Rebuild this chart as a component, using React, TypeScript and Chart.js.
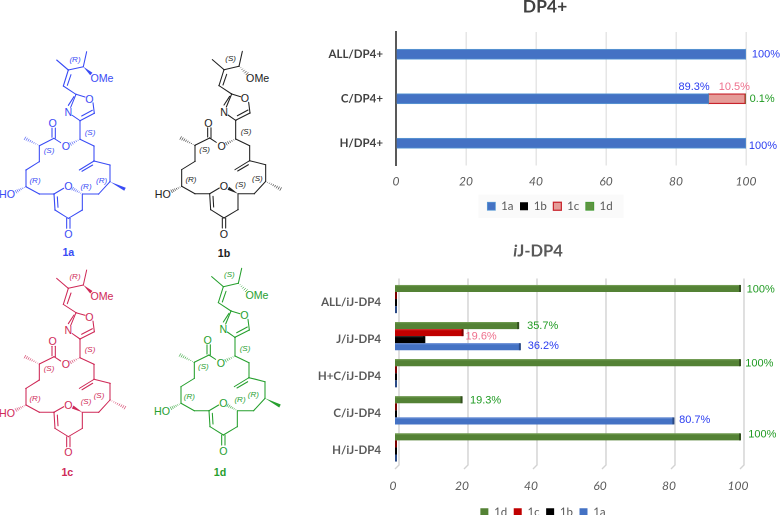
import React, { useEffect, useRef } from "react";
import { Chart, registerables } from "chart.js";
Chart.register(...registerables);

const dp4Categories = ["ALL/DP4+", "C/DP4+", "H/DP4+"];
const dp4_1a = [100, 89.3, 100];
const dp4_1b = [0, 0, 0];
const dp4_1c = [0, 10.5, 0];
const dp4_1d = [0, 0.1, 0];

const ijCategories = ["ALL/iJ-DP4", "J/iJ-DP4", "H+C/iJ-DP4", "C/iJ-DP4", "H/iJ-DP4"];
const ij_1d = [100, 35.7, 100, 19.3, 100];
const ij_1c = [0, 19.6, 0, 0, 0];
const ij_1b = [0, 8.5, 0, 0, 0];
const ij_1a = [0, 36.2, 0, 80.7, 0];

const axisTicks = [0, 20, 40, 60, 80, 100];

const SANS = "Lato, 'Open Sans', sans-serif";
const HELV = "'Liberation Sans', Arial, sans-serif";
const LABEL_BLUE = "#2a3cf0";
const LABEL_PINK = "#ee6f8c";
const LABEL_GREEN = "#1f9a22";

// [dataset, category, dx, dy, colour]
const dp4Labels: [number, number, number, number, string][] = [
  [0, 0, 20, 0, LABEL_BLUE],
  [0, 1, -14.5, -12, LABEL_BLUE],
  [2, 1, -11, -12, LABEL_PINK],
  [3, 1, 16.5, 0, LABEL_GREEN],
  [0, 2, 17, 2.5, LABEL_BLUE],
];
const ijLabels: [number, number, number, number, string][] = [
  [0, 0, 20.7, 1, LABEL_GREEN],
  [0, 1, 24.5, 0.5, LABEL_GREEN],
  [1, 1, 18.5, 4, LABEL_PINK],
  [3, 1, 23.4, -1, LABEL_BLUE],
  [0, 2, 19.3, 1, LABEL_GREEN],
  [0, 3, 24, 0.5, LABEL_GREEN],
  [3, 3, 21.3, -1, LABEL_BLUE],
  [0, 4, 22.3, -2.5, LABEL_GREEN],
];

function valueLabels(items: [number, number, number, number, string][]) {
  return {
    id: "valueLabels",
    afterDatasetsDraw(chart: any) {
      const ctx = chart.ctx;
      ctx.save();
      ctx.font = `11px ${HELV}`;
      ctx.textAlign = "center";
      ctx.textBaseline = "middle";
      for (const [d, i, dx, dy, color] of items) {
        const el = chart.getDatasetMeta(d).data[i];
        ctx.fillStyle = color;
        ctx.fillText(`${chart.data.datasets[d].data[i]}%`, el.x + dx, el.y + dy);
      }
      ctx.restore();
    },
  };
}

function titleParts(parts: [string, string][], cx: number, y: number, color: string, size: number) {
  return {
    id: "titleParts",
    afterDraw(chart: any) {
      const ctx = chart.ctx;
      ctx.save();
      ctx.fillStyle = color;
      ctx.textBaseline = "middle";
      ctx.textAlign = "left";
      let w = 0;
      for (const [style, t] of parts) {
        ctx.font = `${style} 700 ${size}px ${SANS}`;
        w += ctx.measureText(t).width;
      }
      let x = cx - w / 2;
      for (const [style, t] of parts) {
        ctx.font = `${style} 700 ${size}px ${SANS}`;
        ctx.fillText(t, x, y);
        x += ctx.measureText(t).width;
      }
      ctx.restore();
    },
  };
}

function legendShift(dx: number) {
  return {
    id: "legendShift",
    afterLayout(chart: any) {
      const lg = chart.legend;
      lg.left += dx;
      lg.right += dx;
      lg.legendHitBoxes.forEach((b: any) => { b.left += dx; });
    },
  };
}

const legendBackdrop = {
  id: "legendBackdrop",
  beforeDraw(chart: any) {
    const boxes = chart.legend.legendHitBoxes;
    if (!boxes.length) return;
    const a = boxes[0];
    const b = boxes[boxes.length - 1];
    const ctx = chart.ctx;
    ctx.save();
    ctx.fillStyle = "#fafafa";
    ctx.fillRect(a.left - 9, a.top - 6, b.left + b.width - a.left + 20, a.height + 12);
    ctx.restore();
  },
};

const perspectiveGrid = {
  id: "perspectiveGrid",
  beforeDatasetsDraw(chart: any) {
    const ctx = chart.ctx;
    const sx = chart.scales.x;
    const { top, bottom } = chart.chartArea;
    ctx.save();
    ctx.strokeStyle = "#d2d2d2";
    ctx.lineWidth = 1.4;
    for (const t of axisTicks) {
      const x = sx.getPixelForValue(t);
      ctx.beginPath();
      ctx.moveTo(x + 4, top - 2);
      ctx.lineTo(x + 4, bottom - 1);
      ctx.lineTo(x, bottom + 3);
      ctx.stroke();
    }
    ctx.restore();
  },
};

const shade: Record<string, [string, string]> = {
  "1d": ["#6f9a50", "#33501f"],
  "1c": ["#d22a2a", "#7c0000"],
  "1b": ["#262626", "#000000"],
  "1a": ["#6a8fd6", "#2a4a86"],
};
const barBevel = {
  id: "barBevel",
  afterDatasetsDraw(chart: any) {
    const ctx = chart.ctx;
    ctx.save();
    chart.data.datasets.forEach((ds: any, d: number) => {
      const [light, dark] = shade[ds.label];
      chart.getDatasetMeta(d).data.forEach((el: any, i: number) => {
        const h = el.height;
        const t = el.y - h / 2;
        const zero = ds.data[i] === 0;
        const right = zero ? el.x + 2 : el.x + 1;
        if (!zero) {
          ctx.fillStyle = light;
          ctx.fillRect(el.base, t, el.x - el.base, 1.2);
        }
        ctx.fillStyle = dark;
        ctx.fillRect(right - 2, t, 2, h);
      });
    });
    ctx.restore();
  },
};

function DP4Chart() {
  const ref = useRef<HTMLCanvasElement>(null);
  useEffect(() => {
    const chart = new Chart(ref.current!, {
      type: "bar",
      data: {
        labels: dp4Categories,
        datasets: [
          { label: "1a", data: dp4_1a, backgroundColor: "#4472c4", borderColor: "#5b9bd5", borderWidth: 0.8 },
          { label: "1b", data: dp4_1b, backgroundColor: "#000000", borderColor: "#000000", borderWidth: 0 },
          { label: "1c", data: dp4_1c, backgroundColor: "#e59c98", borderColor: "#c8232c", borderWidth: 1.2 },
          { label: "1d", data: dp4_1d, backgroundColor: "#5e9442", borderColor: "#3f9a2e", borderWidth: 0.8 },
        ],
      },
      plugins: [legendShift(27), legendBackdrop, valueLabels(dp4Labels), titleParts([["normal", "DP4+"]], 245, 7, "#404040", 17.5)],
      options: {
        animation: false,
        responsive: false,
        devicePixelRatio: 2,
        indexAxis: "y",
        layout: { padding: { top: 32, right: 34, left: 0, bottom: 0 } },
        datasets: { bar: { barThickness: 10 } },
        scales: {
          x: {
            stacked: true,
            min: 0,
            max: 100,
            afterBuildTicks: (a: any) => { a.ticks = axisTicks.map((value) => ({ value })); },
            afterFit: (a: any) => { a.height = 28.5; },
            grid: { color: "#e4e4e4", lineWidth: 1.4, drawTicks: false },
            border: { display: false },
            ticks: { font: { family: SANS, size: 12, style: "italic" }, color: "#595959", padding: 9, maxRotation: 0 },
          },
          y: {
            stacked: true,
            afterFit: (a: any) => { a.width = 96; },
            grid: { display: false },
            border: { color: "#595959", width: 2 },
            ticks: { font: { family: SANS, size: 11.5, weight: "bold" }, color: "#404040", padding: 5 },
          },
        },
        plugins: {
          tooltip: { enabled: false },
          legend: {
            position: "bottom",
            labels: { boxWidth: 8, boxHeight: 8, padding: 6.5, font: { family: SANS, size: 11.5 }, color: "#595959" },
          },
        },
      },
    } as any);
    return () => chart.destroy();
  }, []);
  return <canvas ref={ref} width={480} height={222} style={{ position: "absolute", left: 300, top: 0, width: 480, height: 222 }} />;
}

function IJChart() {
  const ref = useRef<HTMLCanvasElement>(null);
  useEffect(() => {
    const chart = new Chart(ref.current!, {
      type: "bar",
      data: {
        labels: ijCategories,
        datasets: [
          { label: "1d", data: ij_1d, backgroundColor: "#548235" },
          { label: "1c", data: ij_1c, backgroundColor: "#c00000" },
          { label: "1b", data: ij_1b, backgroundColor: "#000000" },
          { label: "1a", data: ij_1a, backgroundColor: "#4472c4" },
        ],
      },
      plugins: [legendShift(23), perspectiveGrid, barBevel, valueLabels(ijLabels), titleParts([["italic", "i"], ["normal", "J-DP4"]], 238, 26, "#595959", 16.5)],
      options: {
        animation: false,
        responsive: false,
        devicePixelRatio: 2,
        indexAxis: "y",
        layout: { padding: { top: 55.5, right: 40, left: 0, bottom: 0 } },
        datasets: { bar: { categoryPercentage: 0.76, barPercentage: 1 } },
        scales: {
          x: {
            min: 0,
            max: 100,
            afterBuildTicks: (a: any) => { a.ticks = axisTicks.map((value) => ({ value })); },
            afterFit: (a: any) => { a.height = 34; },
            grid: { display: false },
            border: { display: false },
            ticks: { font: { family: SANS, size: 12, style: "italic" }, color: "#595959", padding: 5, labelOffset: -2, maxRotation: 0 },
          },
          y: {
            afterFit: (a: any) => { a.width = 95; },
            grid: { display: false },
            border: { display: false },
            ticks: { font: { family: SANS, size: 11.5, weight: "bold" }, color: "#595959", padding: 6, labelOffset: 3 },
          },
        },
        plugins: {
          tooltip: { enabled: false },
          legend: {
            position: "bottom",
            labels: { boxWidth: 8, boxHeight: 8, padding: 6.5, font: { family: SANS, size: 11.5 }, color: "#595959" },
          },
        },
      },
    } as any);
    return () => chart.destroy();
  }, []);
  return <canvas ref={ref} width={480} height={303} style={{ position: "absolute", left: 300, top: 225, width: 480, height: 303 }} />;
}

type Bond = [number, number, number, number];
const skeleton: Bond[] = [
  [170, 180, 205, 210], [205, 210, 250, 200], [250, 200, 260, 155],
  [205, 210, 190, 258], [213, 224, 202, 256],
  [190, 258, 228, 283], [228, 283, 255, 291], [279, 308, 283, 340],
  [283, 340, 240, 362], [277, 331, 245, 348], [240, 362, 217, 346],
  [212, 322, 228, 283], [205, 316, 222, 290],
  [240, 362, 240, 418], [240, 418, 282, 438], [282, 438, 282, 483],
  [282, 483, 330, 495], [330, 495, 330, 545], [330, 545, 296, 582],
  [296, 582, 248, 582], [282, 483, 238, 510], [278, 495, 246, 514],
  [182, 428, 162, 415], [162, 415, 118, 437], [166, 415, 166, 384], [156, 412, 156, 384],
  [118, 437, 118, 485], [118, 485, 78, 510], [78, 510, 78, 560],
  [78, 560, 118, 582], [118, 582, 162, 582], [162, 582, 191, 565],
  [162, 582, 165, 630], [172, 590, 174, 622], [165, 630, 205, 655],
  [205, 655, 247, 630], [247, 630, 247, 582],
  [200, 655, 200, 685], [210, 655, 210, 685],
];
const fixedHash: Bond[] = [[240, 418, 212, 432], [118, 437, 75, 415], [78, 560, 48, 575]];
const omeBond: Bond = [250, 200, 274, 222];
const ringBond: Bond = [247, 582, 218, 566];
const methylBond: Bond = [330, 545, 375, 568];
const atomLabels: [string, number, number][] = [
  ["OMe", 306, 234], ["O", 268, 296], ["N", 205, 336], ["O", 158, 369], ["O", 198, 438],
  ["O", 205, 559], ["O", 205, 702], ["HO", 21, 583],
];

function Wedge({ b, color }: { b: Bond; color: string }) {
  const [x1, y1, x2, y2] = b;
  const l = Math.hypot(x2 - x1, y2 - y1);
  const nx = (-(y2 - y1) / l) * 5;
  const ny = ((x2 - x1) / l) * 5;
  return <polygon points={`${x1},${y1} ${x2 + nx},${y2 + ny} ${x2 - nx},${y2 - ny}`} fill={color} />;
}
function Hash({ b, color }: { b: Bond; color: string }) {
  const [x1, y1, x2, y2] = b;
  const l = Math.hypot(x2 - x1, y2 - y1);
  const n = Math.max(4, Math.round(l / 6));
  const ux = -(y2 - y1) / l;
  const uy = (x2 - x1) / l;
  const lines = [];
  for (let i = 0; i <= n; i++) {
    const f = i / n;
    const x = x1 + (x2 - x1) * f;
    const y = y1 + (y2 - y1) * f;
    const w = 0.5 + 5 * f;
    lines.push(<line key={i} x1={x - ux * w} y1={y - uy * w} x2={x + ux * w} y2={y + uy * w} stroke={color} strokeWidth={2} />);
  }
  return <g>{lines}</g>;
}

type MolProps = {
  dx: number; dy: number; color: string; name: string; nameAt: [number, number];
  ome: "w" | "h"; ring: "w" | "h"; methyl: "w" | "h"; stereo: [string, number, number][];
};
function Stereo({ b, kind, color }: { b: Bond; kind: "w" | "h"; color: string }) {
  return kind === "w" ? <Wedge b={b} color={color} /> : <Hash b={b} color={color} />;
}
function Molecule({ dx, dy, color, name, nameAt, ome, ring, methyl, stereo }: MolProps) {
  return (
    <g transform={`translate(${dx} ${dy})`}>
      {skeleton.map((b, i) => (
        <line key={i} x1={b[0]} y1={b[1]} x2={b[2]} y2={b[3]} stroke={color} strokeWidth={3.2} strokeLinecap="round" />
      ))}
      {fixedHash.map((b, i) => <Hash key={i} b={b} color={color} />)}
      <Stereo b={omeBond} kind={ome} color={color} />
      <Stereo b={ringBond} kind={ring} color={color} />
      <Stereo b={methylBond} kind={methyl} color={color} />
      {atomLabels.map(([t, x, y], i) => (
        <text key={i} x={x} y={y} fill={color} fontSize={32} fontFamily={HELV} textAnchor="middle" dominantBaseline="central">{t}</text>
      ))}
      {stereo.map(([t, x, y], i) => (
        <text key={i} x={x} y={y} fill={color} fontSize={24} fontStyle="italic" fontFamily={HELV} textAnchor="middle" dominantBaseline="central">{t}</text>
      ))}
      <text x={nameAt[0]} y={nameAt[1]} fill={color} fontSize={32} fontWeight={700} fontFamily={HELV} textAnchor="middle" dominantBaseline="central">{name}</text>
    </g>
  );
}

function Molecules() {
  return (
    <svg width={300} height={515} viewBox="0 0 900 1545" style={{ position: "absolute", left: 0, top: 0 }}>
      <Molecule dx={0} dy={0} color="#3a4cf5" name="1a" nameAt={[205, 757]} ome="w" ring="h" methyl="w"
        stereo={[["(R)", 225, 177], ["(S)", 270, 397], ["(S)", 147, 452], ["(R)", 105, 542], ["(R)", 258, 560], ["(R)", 305, 540]]} />
      <Molecule dx={467} dy={-1} color="#222222" name="1b" nameAt={[205, 761]} ome="h" ring="w" methyl="h"
        stereo={[["(S)", 225, 176], ["(S)", 271, 396], ["(S)", 147, 451], ["(R)", 106, 539], ["(S)", 255, 556], ["(S)", 305, 536]]} />
      <Molecule dx={0} dy={655} color="#cf2a58" name="1c" nameAt={[202, 760]} ome="w" ring="w" methyl="h"
        stereo={[["(R)", 225, 175], ["(S)", 270, 395], ["(S)", 147, 450], ["(R)", 105, 540], ["(S)", 258, 550], ["(S)", 297, 533]]} />
      <Molecule dx={465} dy={650} color="#27a02f" name="1d" nameAt={[195, 767]} ome="h" ring="h" methyl="w"
        stereo={[["(S)", 223, 175], ["(S)", 270, 397], ["(S)", 145, 450], ["(R)", 103, 539], ["(R)", 255, 550], ["(R)", 295, 533]]} />
    </svg>
  );
}

export default function App() {
  return (
    <div style={{ position: "absolute", left: 0, top: 0, width: 780, height: 515, overflow: "hidden", background: "#fff" }}>
      <Molecules />
      <DP4Chart />
      <IJChart />
    </div>
  );
}
